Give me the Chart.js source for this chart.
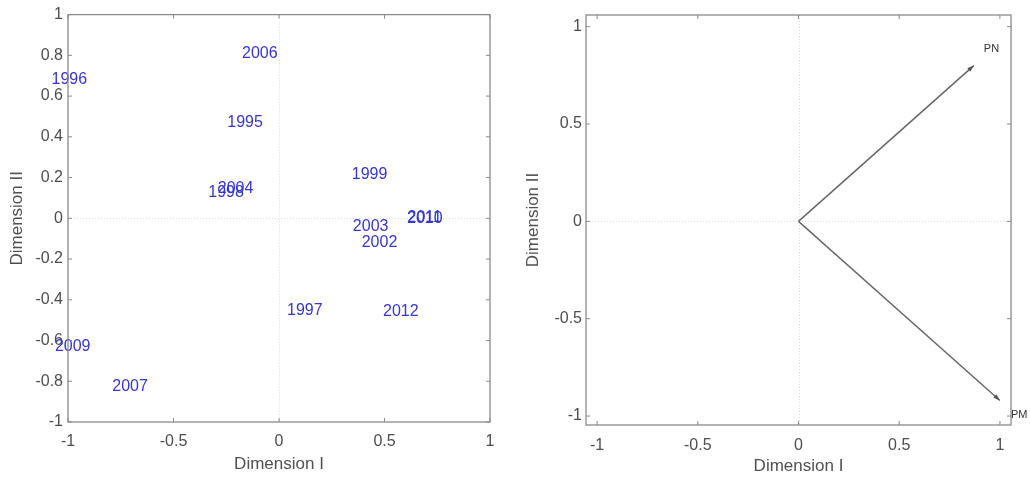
<!DOCTYPE html>
<html>
<head>
<meta charset="utf-8">
<script src="https://cdn.jsdelivr.net/npm/chart.js@4.4.1/dist/chart.umd.min.js"></script>
<style>
  html, body { margin: 0; padding: 0; background: #ffffff; }
  #wrap { position: relative; width: 1030px; height: 478px; overflow: hidden; }
  .panel { position: absolute; top: 0; width: 515px; height: 478px; }
  #left { left: 0; }
  #right { left: 515px; }
</style>
</head>
<body>
<div id="wrap">
  <div class="panel" id="left"><canvas id="yearsCanvas" width="515" height="478"></canvas></div>
  <div class="panel" id="right"><canvas id="varsCanvas" width="515" height="478"></canvas></div>
</div>
<script>
// Year scores on the first two dimensions
const years = ['2006', '1996', '1995', '1998', '2004', '1999', '2003', '2002', '2010', '2011', '1997', '2012', '2009', '2007'];
const yearDim1 = [-0.175, -1.078, -0.245, -0.335, -0.290, 0.345, 0.350, 0.392, 0.607, 0.609, 0.038, 0.493, -1.062, -0.790];
const yearDim2 = [0.810, 0.680, 0.470, 0.127, 0.147, 0.215, -0.040, -0.117, 0.000, 0.002, -0.455, -0.460, -0.630, -0.826];

// Variable loadings (arrows from the origin)
const variables = ['PN', 'PM'];
const varDim1 = [0.870, 1.000];
const varDim2 = [0.800, -0.920];
const varLabelDim1 = [0.920, 1.055];
const varLabelDim2 = [0.885, -0.995];

// Axis ticks
const leftXTicks = [-1, -0.5, 0, 0.5, 1];
const leftXTickLabels = ['-1', '-0.5', '0', '0.5', '1'];
const leftYTicks = [-1, -0.8, -0.6, -0.4, -0.2, 0, 0.2, 0.4, 0.6, 0.8, 1];
const leftYTickLabels = ['-1', '-0.8', '-0.6', '-0.4', '-0.2', '0', '0.2', '0.4', '0.6', '0.8', '1'];
const rightXTicks = [-1, -0.5, 0, 0.5, 1];
const rightXTickLabels = ['-1', '-0.5', '0', '0.5', '1'];
const rightYTicks = [-1, -0.5, 0, 0.5, 1];
const rightYTickLabels = ['-1', '-0.5', '0', '0.5', '1'];

const FONT = '"Liberation Sans", Arial, Helvetica, sans-serif';
const TICK_COLOR = '#4d4d4d';
const BOX_COLOR = '#8a8a8a';

// Box, inward tick marks and dotted zero lines
const frame = {
  id: 'frame',
  beforeDatasetsDraw(chart) {
    const { ctx, chartArea: a, scales: { x, y } } = chart;
    ctx.save();
    ctx.strokeStyle = '#d9d9d9';
    ctx.lineWidth = 1;
    ctx.setLineDash([1, 2]);
    const x0 = Math.round(x.getPixelForValue(0)) + 0.5;
    const y0 = Math.round(y.getPixelForValue(0)) + 0.5;
    ctx.beginPath();
    ctx.moveTo(x0, a.top); ctx.lineTo(x0, a.bottom);
    ctx.moveTo(a.left, y0); ctx.lineTo(a.right, y0);
    ctx.stroke();
    ctx.restore();
  },
  afterDraw(chart) {
    const { ctx, chartArea: a, scales: { x, y } } = chart;
    ctx.save();
    ctx.strokeStyle = BOX_COLOR;
    ctx.lineWidth = 1.3;
    ctx.setLineDash([]);
    ctx.strokeRect(a.left, a.top, a.right - a.left, a.bottom - a.top);
    const len = 4;
    ctx.lineWidth = 1;
    ctx.beginPath();
    x.ticks.forEach(t => {
      const px = x.getPixelForValue(t.value);
      ctx.moveTo(px, a.bottom); ctx.lineTo(px, a.bottom - len);
      ctx.moveTo(px, a.top); ctx.lineTo(px, a.top + len);
    });
    y.ticks.forEach(t => {
      const py = y.getPixelForValue(t.value);
      ctx.moveTo(a.left, py); ctx.lineTo(a.left + len, py);
      ctx.moveTo(a.right, py); ctx.lineTo(a.right - len, py);
    });
    ctx.stroke();
    ctx.restore();
  }
};

function axis(min, max, values, labels, opts) {
  return {
    type: 'linear',
    min: min,
    max: max,
    afterBuildTicks(scale) { scale.ticks = values.map(v => ({ value: v })); },
    afterFit(scale) {
      if (opts.width !== undefined) scale.width = opts.width;
      if (opts.height !== undefined) scale.height = opts.height;
    },
    grid: { display: false, drawTicks: false },
    border: { display: false },
    ticks: {
      autoSkip: false,
      maxRotation: 0,
      padding: opts.padding,
      color: TICK_COLOR,
      font: { family: FONT, size: 16 },
      callback: (v, i) => labels[i]
    },
    title: {
      display: true,
      text: opts.title,
      color: '#505050',
      font: { family: FONT, size: 17 },
      padding: opts.titlePadding
    }
  };
}

// Left panel: years as text labels
const yearLabels = {
  id: 'yearLabels',
  afterDatasetsDraw(chart) {
    const { ctx } = chart;
    const meta = chart.getDatasetMeta(0);
    ctx.save();
    ctx.font = '16px ' + FONT;
    ctx.fillStyle = '#3636cc';
    ctx.textAlign = 'left';
    ctx.textBaseline = 'middle';
    meta.data.forEach((pt, i) => ctx.fillText(years[i], pt.x, pt.y));
    ctx.restore();
  }
};

new Chart(document.getElementById('yearsCanvas'), {
  type: 'scatter',
  data: {
    datasets: [{
      data: years.map((_, i) => ({ x: yearDim1[i], y: yearDim2[i] })),
      pointRadius: 0,
      pointHoverRadius: 0,
      clip: false
    }]
  },
  options: {
    responsive: false,
    animation: false,
    devicePixelRatio: 1,
    layout: { padding: { left: 0, right: 25, top: 13, bottom: 0 } },
    plugins: { legend: { display: false }, tooltip: { enabled: false } },
    events: [],
    scales: {
      x: axis(-1, 1, leftXTicks, leftXTickLabels, { height: 56, padding: 10, title: 'Dimension I', titlePadding: { top: 0, bottom: 3 } }),
      y: axis(-1, 1, leftYTicks, leftYTickLabels, { width: 68, padding: 5, title: 'Dimension II', titlePadding: { top: 7, bottom: 0 } })
    }
  },
  plugins: [frame, yearLabels]
});

// Right panel: variable arrows
const arrowHeads = {
  id: 'arrowHeads',
  afterDatasetsDraw(chart) {
    const { ctx, scales: { x, y } } = chart;
    ctx.save();
    chart.data.datasets.forEach((ds, i) => {
      const pts = chart.getDatasetMeta(i).data;
      const a = pts[0], b = pts[pts.length - 1];
      const ang = Math.atan2(b.y - a.y, b.x - a.x);
      const L = 7, W = 0.33;
      ctx.fillStyle = '#555555';
      ctx.beginPath();
      ctx.moveTo(b.x, b.y);
      ctx.lineTo(b.x - L * Math.cos(ang - W), b.y - L * Math.sin(ang - W));
      ctx.lineTo(b.x - L * Math.cos(ang + W), b.y - L * Math.sin(ang + W));
      ctx.closePath();
      ctx.fill();
    });
    ctx.font = '11px ' + FONT;
    ctx.fillStyle = '#333333';
    ctx.textAlign = 'left';
    ctx.textBaseline = 'middle';
    variables.forEach((name, i) => {
      ctx.fillText(name, x.getPixelForValue(varLabelDim1[i]), y.getPixelForValue(varLabelDim2[i]));
    });
    ctx.restore();
  }
};

new Chart(document.getElementById('varsCanvas'), {
  type: 'scatter',
  data: {
    datasets: variables.map((name, i) => ({
      label: name,
      data: [{ x: 0, y: 0 }, { x: varDim1[i], y: varDim2[i] }],
      showLine: true,
      borderColor: '#666666',
      borderWidth: 1.4,
      pointRadius: 0,
      pointHoverRadius: 0,
      clip: false
    }))
  },
  options: {
    responsive: false,
    animation: false,
    devicePixelRatio: 1,
    layout: { padding: { left: 0, right: 19, top: 15, bottom: 0 } },
    plugins: { legend: { display: false }, tooltip: { enabled: false } },
    events: [],
    scales: {
      x: axis(-1.055, 1.055, rightXTicks, rightXTickLabels, { height: 53, padding: 11, title: 'Dimension I', titlePadding: { top: 0, bottom: 1 } }),
      y: axis(-1.046, 1.06, rightYTicks, rightYTickLabels, { width: 71, padding: 4, title: 'Dimension II', titlePadding: { top: 8, bottom: 0 } })
    }
  },
  plugins: [frame, arrowHeads]
});
</script>
</body>
</html>
